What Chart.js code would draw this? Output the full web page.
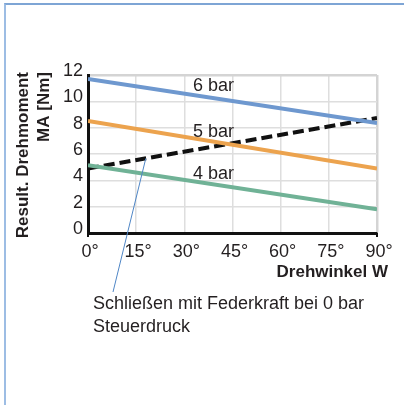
<!DOCTYPE html>
<html lang="de">
<head>
<meta charset="utf-8">
<title>Drehmoment</title>
<script src="https://cdn.jsdelivr.net/npm/chart.js@4/dist/chart.umd.min.js"></script>
<style>
  html, body {
    margin: 0;
    padding: 0;
    background: #fff;
    overflow: hidden;
  }

  .rahmen {
    position: absolute;
    top: 3px;
    left: 4px;
    width: 600px;
    height: 600px;
    border-top: 2px solid #7ea5d5;
    border-left: 2px solid #9dbde4;
  }

  .grafik {
    position: absolute;
    top: 0;
    left: 0;
    width: 404px;
    height: 405px;
  }
</style>
</head>
<body>
<div class="rahmen"></div>
<div class="grafik">
  <canvas id="graficoMoment"></canvas>
</div>

<script>
const winkel = [0, 90];
const winkelTicks = [0, 15, 30, 45, 60, 75, 90];
const momentTicks = [0, 2, 4, 6, 8, 10, 12];

const moment6bar = [11.7, 8.35];
const moment5bar = [8.5, 4.9];
const moment4bar = [5.15, 1.8];
const momentFeder = [4.9, 8.73];

const reihenNamen = ["6 bar", "5 bar", "4 bar"];
const achseX = "Drehwinkel W";
const achseY = ["Result. Drehmoment", "MA [Nm]"];
const hinweis = ["Schließen mit Federkraft bei 0 bar", "Steuerdruck"];

const schrift = "'Liberation Sans', Arial, Helvetica, sans-serif";

function punkte(werte) {
  return werte.map((wert, i) => ({ x: winkel[i], y: wert }));
}

// Texte, Beschriftungen und Hinweislinie
const texte = {
  id: "texte",
  afterDraw(chart) {
    const { ctx, scales } = chart;
    const x = scales.x;
    const y = scales.y;

    ctx.save();
    ctx.fillStyle = "#231f20";

    // Reihenbeschriftung über den Linien
    ctx.font = "18px " + schrift;
    ctx.textAlign = "left";
    ctx.textBaseline = "middle";
    const lagen = [[32.7, 11.2], [32.7, 7.68], [32.7, 4.5]];
    reihenNamen.forEach((name, i) => {
      ctx.fillText(name, x.getPixelForValue(lagen[i][0]), y.getPixelForValue(lagen[i][1]));
    });

    // Achsentitel x
    ctx.font = "bold 17px " + schrift;
    ctx.textAlign = "right";
    ctx.textBaseline = "alphabetic";
    ctx.fillText(achseX, 388, 277);

    // Achsentitel y (gedreht)
    ctx.save();
    ctx.translate(28, 72);
    ctx.rotate(-Math.PI / 2);
    ctx.font = "bold 17px " + schrift;
    ctx.textAlign = "right";
    ctx.fillText(achseY[0], 0, 0);
    ctx.fillText(achseY[1], 0, 21);
    ctx.restore();

    // Hinweistext
    ctx.font = "18px " + schrift;
    ctx.textAlign = "left";
    ctx.fillText(hinweis[0], 93, 309);
    ctx.fillText(hinweis[1], 93, 332);

    // Hinweislinie zur Federkennlinie
    const anteil = 18 / (winkel[1] - winkel[0]);
    const wert = momentFeder[0] + (momentFeder[1] - momentFeder[0]) * anteil;
    ctx.strokeStyle = "#4f86c6";
    ctx.lineWidth = 1;
    ctx.beginPath();
    ctx.moveTo(x.getPixelForValue(18), y.getPixelForValue(wert));
    ctx.lineTo(113, 292);
    ctx.stroke();

    // kleine Endmarken an der x-Achse
    ctx.strokeStyle = "#111";
    ctx.lineWidth = 2;
    [x.left, x.right].forEach(px => {
      ctx.beginPath();
      ctx.moveTo(px, y.bottom);
      ctx.lineTo(px, y.bottom + 4);
      ctx.stroke();
    });

    ctx.restore();
  }
};

function linie(label, werte, farbe, strich) {
  return {
    label,
    data: punkte(werte),
    borderColor: farbe,
    backgroundColor: farbe,
    borderWidth: 4,
    borderDash: strich || [],
    pointRadius: 0,
    tension: 0
  };
}

function carregarGrafico() {
  const canvas = document.getElementById("graficoMoment");

  new Chart(canvas, {
    type: "line",
    data: {
      datasets: [
        linie("6 bar", moment6bar, "#6e98cf"),
        linie("5 bar", moment5bar, "#eca34e"),
        linie("4 bar", moment4bar, "#70b296"),
        linie("Feder", momentFeder, "#111111", [11, 5])
      ]
    },
    options: {
      responsive: true,
      maintainAspectRatio: false,
      animation: false,
      layout: {
        padding: { top: 75, right: 27, left: 0, bottom: 0 }
      },
      plugins: {
        legend: { display: false },
        tooltip: { enabled: false }
      },
      scales: {
        x: {
          type: "linear",
          min: 0,
          max: 90,
          afterBuildTicks(scale) {
            scale.ticks = winkelTicks.map(v => ({ value: v }));
          },
          afterFit(scale) {
            scale.height = 405 - 233;
          },
          border: { color: "#111", width: 3 },
          grid: {
            color: ctx => (ctx.tick && ctx.tick.value === 90 ? "#d4d4d4" : "#dedede"),
            lineWidth: ctx => (ctx.tick && ctx.tick.value === 90 ? 2.5 : 1.5),
            drawTicks: false
          },
          ticks: {
            padding: 8,
            labelOffset: 2,
            maxRotation: 0,
            color: "#231f20",
            font: { family: schrift, size: 18 },
            callback: v => v + "°"
          }
        },
        y: {
          min: 0,
          max: 12,
          afterBuildTicks(scale) {
            scale.ticks = momentTicks.map(v => ({ value: v }));
          },
          afterFit(scale) {
            scale.width = 88;
          },
          border: { color: "#111", width: 3 },
          grid: {
            color: ctx => (ctx.tick && ctx.tick.value === 12 ? "#d4d4d4" : "#dedede"),
            lineWidth: ctx => (ctx.tick && ctx.tick.value === 12 ? 2.5 : 1.5),
            drawTicks: false
          },
          ticks: {
            padding: 5,
            labelOffset: -4,
            color: "#231f20",
            font: { family: schrift, size: 18 }
          }
        }
      }
    },
    plugins: [texte]
  });
}

document.addEventListener("DOMContentLoaded", carregarGrafico);
</script>
</body>
</html>
